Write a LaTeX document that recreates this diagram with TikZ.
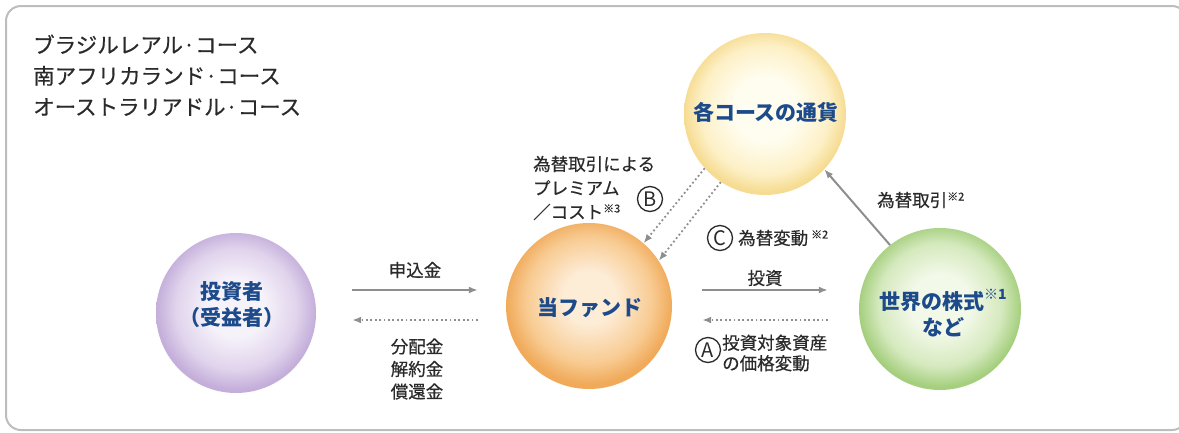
\documentclass[tikz,border=0pt]{standalone}
\usepackage{fontspec}
\setmainfont{Noto Sans CJK JP}
\newfontfamily\jpmed{Noto Sans CJK JP}[FakeBold=0.5]
\usetikzlibrary{arrows.meta,calc}
\definecolor{framegray}{HTML}{BDBDBD}
\definecolor{arrgray}{HTML}{8E8E8E}
\definecolor{navy}{HTML}{1C4A8A}
\definecolor{txt}{HTML}{2A2A2A}
\definecolor{purpleIn}{HTML}{F6F2FA}
\definecolor{purpleMid}{HTML}{E0D3EC}
\definecolor{purpleOut}{HTML}{C4AEDA}
\definecolor{orangeIn}{HTML}{FDECD6}
\definecolor{orangeMid}{HTML}{F8CB92}
\definecolor{orangeOut}{HTML}{F0AA5A}
\definecolor{greenIn}{HTML}{F3F9E9}
\definecolor{greenMid}{HTML}{D5E9BE}
\definecolor{greenOut}{HTML}{A5CF7E}
\definecolor{yellowIn}{HTML}{FFFDEF}
\definecolor{yellowMid}{HTML}{FDF0C6}
\definecolor{yellowOut}{HTML}{F6DC92}
\pgfdeclareradialshading{purpleball}{\pgfpoint{0bp}{2bp}}{color(0bp)=(purpleIn); color(9bp)=(purpleIn); color(19bp)=(purpleMid); color(25bp)=(purpleOut); color(50bp)=(purpleOut)}
\pgfdeclareradialshading{orangeball}{\pgfpoint{0bp}{3bp}}{color(0bp)=(orangeIn); color(8bp)=(orangeIn); color(19bp)=(orangeMid); color(25bp)=(orangeOut); color(50bp)=(orangeOut)}
\pgfdeclareradialshading{greenball}{\pgfpoint{0bp}{2bp}}{color(0bp)=(greenIn); color(9bp)=(greenIn); color(19bp)=(greenMid); color(25bp)=(greenOut); color(50bp)=(greenOut)}
\pgfdeclareradialshading{yellowball}{\pgfpoint{0bp}{2bp}}{color(0bp)=(yellowIn); color(10bp)=(yellowIn); color(20bp)=(yellowMid); color(25bp)=(yellowOut); color(50bp)=(yellowOut)}
\tikzset{
  ball/.style={circle, minimum size=#1, inner sep=0pt},
  balltext/.style={inner sep=0pt, text=navy, align=center,
    font=\fontsize{21}{26}\selectfont\bfseries},
  lbl/.style={text=txt, inner sep=0pt, font=\jpmed\fontsize{17.5}{22}\selectfont},
  cletter/.style={circle, draw=txt, line width=1.3pt, minimum size=25pt, inner sep=0pt,
    text=txt, font=\fontsize{20}{20}\selectfont},
  solidarr/.style={draw=arrgray, line width=2pt, -{Latex[length=9pt,width=7pt]}},
  dotarr/.style={draw=arrgray, line width=1.8pt, dash pattern=on 1.8pt off 2.6pt,
    -{Latex[length=9pt,width=7pt]}},
}
\newcommand\kome[1]{\raisebox{0.35em}{\fontsize{11}{11}\selectfont ※#1}}
\newcommand\komeb[1]{\raisebox{0.5em}{\fontsize{14}{14}\selectfont ※#1}}
\begin{document}
\begin{tikzpicture}[x=1pt,y=-1pt]
\useasboundingbox (0,0) rectangle (1179,432);
\begin{scope}
  \clip (0,0) rectangle (1179,432);
  \draw[framegray, line width=2pt, rounded corners=15pt] (6,6) rectangle (1187,430);
\end{scope}

% title lines
\node[lbl, anchor=base west, font=\jpmed\fontsize{21.5}{21.5}\selectfont] (t1) at (33,53) {ブラジルレアル·コース};
\node[lbl, anchor=base west, font=\jpmed\fontsize{21.5}{21.5}\selectfont] (t2) at (33,84) {南アフリカランド·コース};
\node[lbl, anchor=base west, font=\jpmed\fontsize{21.5}{21.5}\selectfont] (t3) at (33,115) {オーストラリアドル·コース};

% circles
\node[ball=160pt, shading=purpleball] (inv) at (236,313) {};
\node[ball=166pt, shading=orangeball] (fund) at (589,306) {};
\node[ball=162pt, shading=greenball] (stock) at (940,309) {};
\node[ball=162pt, shading=yellowball] (cur) at (765,114) {};
\node[balltext] (invt) at (232,305) {投資者\\（受益者）};
\node[balltext] (fundt) at (590,308) {当ファンド};
\node[balltext] (stockt) at (943,313) {世界の株式\komeb{1}\\など};
\node[balltext] (curt) at (766,112) {各コースの通貨};

% horizontal connectors
\draw[solidarr, shorten <=36pt, shorten >=28pt] ([yshift=23pt]inv.east) -- ([yshift=23pt]inv.east -| fund.west);
\draw[dotarr, shorten <=28pt, shorten >=36pt] ([yshift=-7pt]inv.east -| fund.west) -- ([yshift=-7pt]inv.east);
\draw[solidarr, shorten <=30pt, shorten >=31pt] ([yshift=16pt]fund.east) -- ([yshift=16pt]fund.east -| stock.west);
\draw[dotarr, shorten <=31pt, shorten >=30pt] ([yshift=-14pt]fund.east -| stock.west) -- ([yshift=-14pt]fund.east);

% diagonal connectors
\draw[dotarr] (cur.222) -- (fund.49);
\draw[dotarr] (cur.237) -- (fund.33);
\draw[solidarr] (stock.128) -- (cur.317);

% labels
\node[lbl] (l1) at (415,270) {申込金};
\node[lbl, align=center, font=\jpmed\fontsize{17.5}{22.5}\selectfont] (l2) at (417,369) {分配金\\解約金\\償還金};
\node[lbl] (l3) at (765,278) {投資};
\node[cletter] (ca) at (708,350) {A};
\node[lbl, align=left, anchor=west, font=\jpmed\fontsize{17.5}{20.5}\selectfont] (l4) at (722,353) {投資対象資産\\の価格変動};
\node[lbl, align=left, anchor=west, font=\jpmed\fontsize{17.5}{24}\selectfont] (l5) at (533,188) {為替取引による\\プレミアム\\／コスト\kome{3}};
\node[cletter] (cb) at (650,199) {B};
\node[cletter] (cc) at (720,238) {C};
\node[lbl, anchor=west] (l6) at (738,238) {為替変動\,\kome{2}};
\node[lbl, anchor=west] (l7) at (877,200) {為替取引\kome{2}};
\end{tikzpicture}
\end{document}
